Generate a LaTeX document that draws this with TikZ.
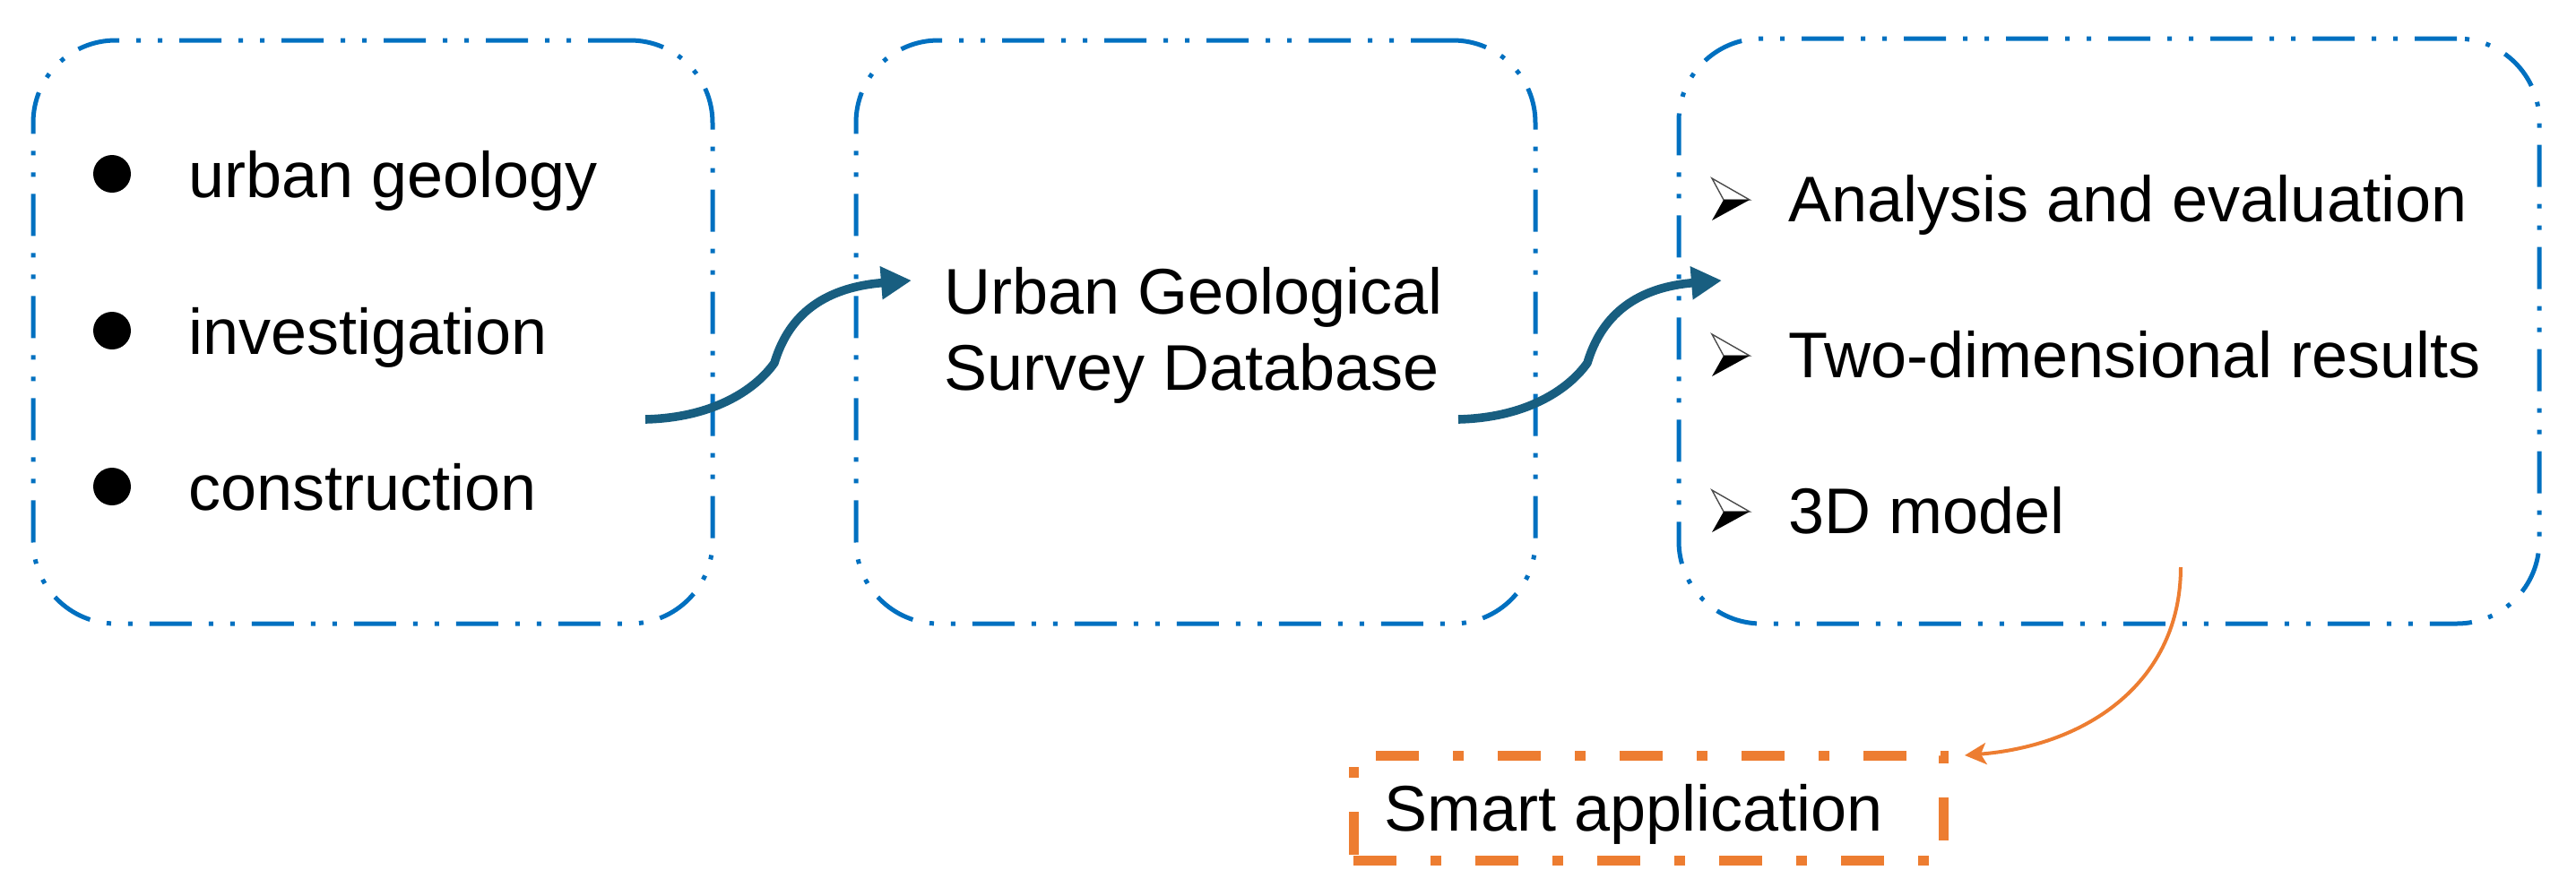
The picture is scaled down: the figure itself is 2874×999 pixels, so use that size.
\documentclass[tikz,border=0pt]{standalone}
\usepackage{fontspec}
\setmainfont{Liberation Sans}
\usetikzlibrary{arrows.meta}
\definecolor{boxblue}{RGB}{0,112,192}
\definecolor{arrowteal}{RGB}{24,94,128}
\definecolor{orangeac}{RGB}{237,125,49}
\begin{document}
\begin{tikzpicture}[x=0.25pt,y=-0.25pt,
  bluebox/.style={draw=boxblue, line width=1.25pt, rounded corners=23pt,
    dash pattern=on 11.75pt off 4.75pt on 1.25pt off 4.75pt on 1.25pt off 4.75pt,
    inner sep=0pt, outer sep=0pt},
  orangebox/.style={draw=orangeac, line width=2.75pt,
    dash pattern=on 12pt off 9.5pt on 3pt off 9.5pt, inner sep=0pt, outer sep=0pt},
  txt/.style={anchor=base west, inner sep=0pt, font=\fontsize{18pt}{22pt}\selectfont},
  dotbullet/.style={circle, fill=black, minimum size=10.5pt, inner sep=0pt},
  flowarrow/.style={draw=arrowteal, line width=2.4pt, -{Triangle[length=8.5pt,width=8.75pt]}},
  apparrow/.style={draw=orangeac, line width=1pt, -{Stealth[length=6pt,width=6pt,inset=1.5pt]}},
  arrowbullet/.pic={
    \draw[line width=0.35pt, black!70, fill=white, line join=miter] (0,-24) -- (42,0) -- (13,0) -- cycle;
    \fill[black] (13,0) -- (42,0) -- (0,23) -- cycle;
  }
]
\useasboundingbox (0,0) rectangle (2874,999);

% boxes
\node[bluebox, minimum width=189.5pt, minimum height=162.75pt] (box1) at (416,370.5) {};
\node[bluebox, minimum width=189.5pt, minimum height=162.75pt] (box2) at (1334,370.5) {};
\node[bluebox, minimum width=240pt, minimum height=163.25pt] (box3) at (2353,369.5) {};
\node[orangebox, minimum width=164.5pt, minimum height=29.25pt] (smart) at (1839,901.5) {};

% box 1 content
\node[dotbullet] (b1) at (125,194) {};
\node[dotbullet] (b2) at (125,369) {};
\node[dotbullet] (b3) at (125,543) {};
\node[txt] (t1) at (210,220) {urban geology};
\node[txt] (t2) at (210,395) {investigation};
\node[txt] (t3) at (210,569) {construction};

% box 2 content
\node[txt] (d1) at (1053,350) {Urban Geological};
\node[txt] (d2) at (1053,435) {Survey Database};

% box 3 content
\pic at (1910,223) {arrowbullet};
\pic at (1910,397) {arrowbullet};
\pic at (1910,571) {arrowbullet};
\node[txt] (r1) at (1995,247) {Analysis and evaluation};
\node[txt] (r2) at (1995,421) {Two-dimensional results};
\node[txt] (r3) at (1995,595) {3D model};

% smart application text
\node[txt] (s1) at (1544,927) {Smart application};

% connectors
\coordinate (a1s) at (720,468);
\coordinate (a1e) at (1017,313);
\coordinate (a2s) at (1627,468);
\coordinate (a2e) at (1921,313);
\coordinate (os) at (2433,633);

\draw[flowarrow] (a1s) .. controls (800,466) and (845,432) .. (864,405)
                       .. controls (876,365) and (905,322) .. (a1e);
\draw[flowarrow] (a2s) .. controls (1707,466) and (1752,432) .. (1771,405)
                       .. controls (1783,365) and (1812,322) .. (a2e);
\draw[apparrow] (os) .. controls (2433,760) and (2330,832) .. ([xshift=6pt]smart.north east);
\end{tikzpicture}
\end{document}
